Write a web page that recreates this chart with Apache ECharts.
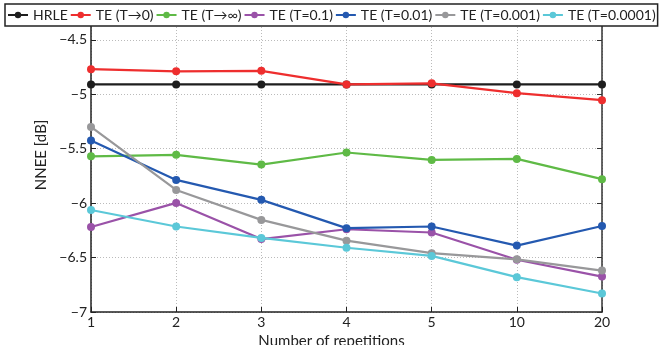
<!DOCTYPE html>
<html><head><meta charset="utf-8">
<script src="https://cdn.jsdelivr.net/npm/echarts@6/dist/echarts.min.js"></script>
<style>html,body{margin:0;padding:0;background:#fff}#c{width:663px;height:345px}</style>
</head><body><div id="c"></div>
<script>
const categories = ['1','2','3','4','5','10','20'];
const seriesNames = ['HRLE','TE (T\u21920)','TE (T\u2192\u221E)','TE (T=0.1)','TE (T=0.01)','TE (T=0.001)','TE (T=0.0001)'];
const hrle   = [-4.91,-4.91,-4.91,-4.91,-4.91,-4.91,-4.91];
const teT0   = [-4.77,-4.79,-4.785,-4.91,-4.90,-4.99,-5.055];
const teTinf = [-5.57,-5.557,-5.646,-5.535,-5.603,-5.594,-5.78];
const te01   = [-6.22,-5.998,-6.33,-6.24,-6.27,-6.52,-6.675];
const te001  = [-5.425,-5.787,-5.97,-6.23,-6.215,-6.39,-6.21];
const te0001 = [-5.30,-5.879,-6.154,-6.345,-6.46,-6.516,-6.62];
const te00001= [-6.063,-6.215,-6.32,-6.41,-6.485,-6.68,-6.83];
const yTicks = [-7,-6.5,-6,-5.5,-5,-4.5];
const colors = ['#1e1e1e','#ee2e2e','#5fba46','#9a52a8','#2459b0','#98989a','#5bc8d8'];
const values = [hrle,teT0,teTinf,te01,te001,te0001,te00001];

const font = 'Lato';
const chart = echarts.init(document.getElementById('c'));
const fmt = v => { if (!yTicks.some(t=>Math.abs(t-v)<1e-6)) return ''; return String(Math.round(v*10)/10).replace('-', '\u2212'); };
chart.setOption({
  animation:false,
  color: colors,
  grid:{left:91,right:61,top:18,bottom:33,containLabel:false,outerBoundsMode:'none'},
  legend:{
    left:5, top:4, width:760,
    padding:[4,2,4,2], itemGap:2, itemWidth:20, itemHeight:8,
    backgroundColor:'#fff', borderColor:'#222', borderWidth:1.5, borderRadius:0,
    textStyle:{fontFamily:font,fontSize:14,color:'#222'},
    data: seriesNames
  },
  xAxis:{
    type:'category', data:categories, boundaryGap:false,
    name:'Number of repetitions', nameLocation:'middle', nameGap:13,
    nameTextStyle:{fontFamily:font,fontSize:15,color:'#222',padding:[0,30,12,0]},
    axisLine:{lineStyle:{color:'#222',width:1.5}},
    axisTick:{inside:true,length:5,lineStyle:{color:'#222'}},
    axisLabel:{fontFamily:font,fontSize:14,color:'#222',margin:3},
    splitLine:{show:true,lineStyle:{color:'#bbb',type:[1,2],width:1}}
  },
  yAxis:[{
    type:'value', min:-7, max:-4.3, interval:0.5,
    name:'NNEE [dB]', nameLocation:'middle', nameGap:21,
    nameTextStyle:{fontFamily:font,fontSize:15,color:'#222',padding:[16,0,0,20]},
    axisLine:{show:true,lineStyle:{color:'#222',width:1.5}},
    axisTick:{show:true,inside:true,length:5,lineStyle:{color:'#222'}},
    axisLabel:{fontFamily:font,fontSize:14,color:'#222',margin:4,formatter:fmt},
    splitLine:{show:true,lineStyle:{color:'#bbb',type:[1,2],width:1}}
  },{
    type:'value', min:-7, max:-4.3, interval:0.5, position:'right',
    axisLine:{show:true,lineStyle:{color:'#333',width:1.5}},
    axisTick:{show:true,inside:true,length:5,lineStyle:{color:'#333'}},
    axisLabel:{show:false}, splitLine:{show:false}
  }],
  series: seriesNames.map((n,i)=>({
    name:n, type:'line', data:values[i], symbol:'circle', symbolSize:8,
    lineStyle:{width:2.2,color:colors[i]}, itemStyle:{color:colors[i]},
    z: i===0?1:2+i
  }))
});
</script></body></html>
